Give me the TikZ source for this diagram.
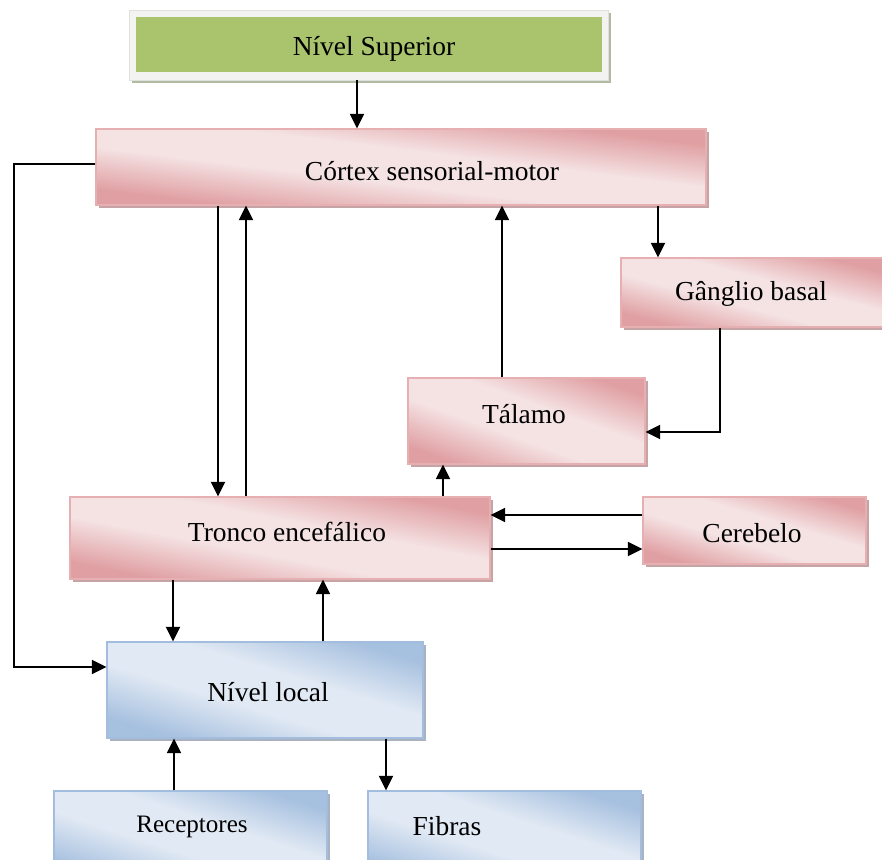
\documentclass[tikz,border=0pt]{standalone}
\usepackage{fontspec}
\setmainfont{Liberation Serif}
\newfontfamily\tms{Liberation Serif}
\usetikzlibrary{arrows.meta,fit,calc}
\definecolor{pd}{HTML}{E0A0A3}
\definecolor{pl}{HTML}{F5E3E4}
\definecolor{pborder}{HTML}{E6B0B2}
\definecolor{pshadow}{HTML}{C6A4A6}
\definecolor{bd}{HTML}{A6C0DF}
\definecolor{bl}{HTML}{E1E9F4}
\definecolor{bborder}{HTML}{A2BDDD}
\definecolor{bshadow}{HTML}{A9B2BE}
\definecolor{gfill}{HTML}{A9C46D}
\definecolor{gframe}{HTML}{F3F3F1}
\definecolor{gshadow}{HTML}{B3BAA4}
\pgfdeclareverticalshading{pdiag}{100bp}{color(0bp)=(pd); color(22bp)=(pd); color(42bp)=(pl); color(58bp)=(pl); color(78bp)=(pd); color(100bp)=(pd)}
\pgfdeclareverticalshading{bdiag}{100bp}{color(0bp)=(bd); color(22bp)=(bd); color(42bp)=(bl); color(58bp)=(bl); color(78bp)=(bd); color(100bp)=(bd)}
\tikzset{
  lbl/.style={anchor=base, inner sep=0pt, font=\tms\fontsize{20.6}{24}\selectfont},
  arr/.style={line width=1.4pt, -{Triangle[length=11pt,width=10.5pt]}},
}
% #1 name, #2 p/b, #3 x1, #4 y1, #5 x2, #6 y2
\newcommand\gbox[6]{%
  \fill[#2shadow] (#3+3,#4+3) rectangle (#5+3,#6+3);
  \shade[shading=#2diag, shading angle=-45,
    transform canvas={shift={({(#3+#5)/2},{(#4+#6)/2})}, xscale={(#5-#3)/2}, yscale={(#6-#4)/2}}]
    (-1,-1) rectangle (1,1);
  \node[fit={(#3,#4) (#5,#6)}, inner sep=0pt, draw=#2border, line width=0.8pt] (#1) {};
}
\begin{document}
\begin{tikzpicture}[x=0.75pt,y=-0.75pt]
\useasboundingbox (0,0) rectangle (882,860);
\clip (0,0) rectangle (882,860);
\fill[white] (0,0) rectangle (882,860);
% top
\fill[gshadow] (132,13) rectangle (611,83);
\node[fit={(129,10) (608,80)}, inner sep=0pt, fill=gframe, draw=gframe!92!black, line width=0.4pt] (frame) {};
\node[fit={(136,17) (602,72)}, inner sep=0pt, fill=gfill] (sup) {};
\node[lbl] (tsup) at (374,55) {Nível Superior};
% pink boxes
\gbox{cortex}{p}{96}{129}{706}{205}
\node[lbl] (tcortex) at (432,180) {Córtex sensorial-motor};
\gbox{ganglio}{p}{621}{258}{884}{327}
\node[lbl] (tganglio) at (751,300) {Gânglio basal};
\gbox{talamo}{p}{408}{378}{645}{464}
\node[lbl] (ttalamo) at (524,423) {Tálamo};
\gbox{tronco}{p}{70}{497}{490}{579}
\node[lbl] (ttronco) at (287,541) {Tronco encefálico};
\gbox{cerebelo}{p}{643}{497}{866}{564}
\node[lbl] (tcerebelo) at (752,542) {Cerebelo};
% blue boxes
\gbox{local}{b}{107}{642}{423}{738}
\node[lbl] (tlocal) at (268,701) {Nível local};
\gbox{recep}{b}{54}{791}{327}{880}
\node[lbl, font=\tms\fontsize{18.8}{22}\selectfont] (trecep) at (192,832) {Receptores};
\gbox{fibras}{b}{368}{791}{641}{880}
\node[lbl] (tfibras) at (447,835) {Fibras};
% connectors
\draw[arr] (frame.south -| 357,0) -- (cortex.north -| 357,0);
\draw[arr] (cortex.south -| 218,0) -- (tronco.north -| 218,0);
\draw[arr] (tronco.north -| 246,0) -- (cortex.south -| 246,0);
\draw[arr] (talamo.north -| 502,0) -- (cortex.south -| 502,0);
\draw[arr] (cortex.south -| 658,0) -- (ganglio.north -| 658,0);
\draw[arr] (ganglio.south -| 720,0) -- (720,432) -- (talamo.east |- 0,432);
\draw[arr] (tronco.north -| 443,0) -- (talamo.south -| 443,0);
\draw[arr] (cerebelo.west |- 0,515) -- (tronco.east |- 0,515);
\draw[arr] (tronco.east |- 0,549) -- (cerebelo.west |- 0,549);
\draw[arr] (tronco.south -| 173,0) -- (local.north -| 173,0);
\draw[arr] (local.north -| 323,0) -- (tronco.south -| 323,0);
\draw[arr] (recep.north -| 174,0) -- (local.south -| 174,0);
\draw[arr] (local.south -| 386,0) -- (fibras.north -| 386,0);
\draw[arr] (cortex.west |- 0,164) -- (14,164) -- (14,667) -- (local.west |- 0,667);
\end{tikzpicture}
\end{document}
